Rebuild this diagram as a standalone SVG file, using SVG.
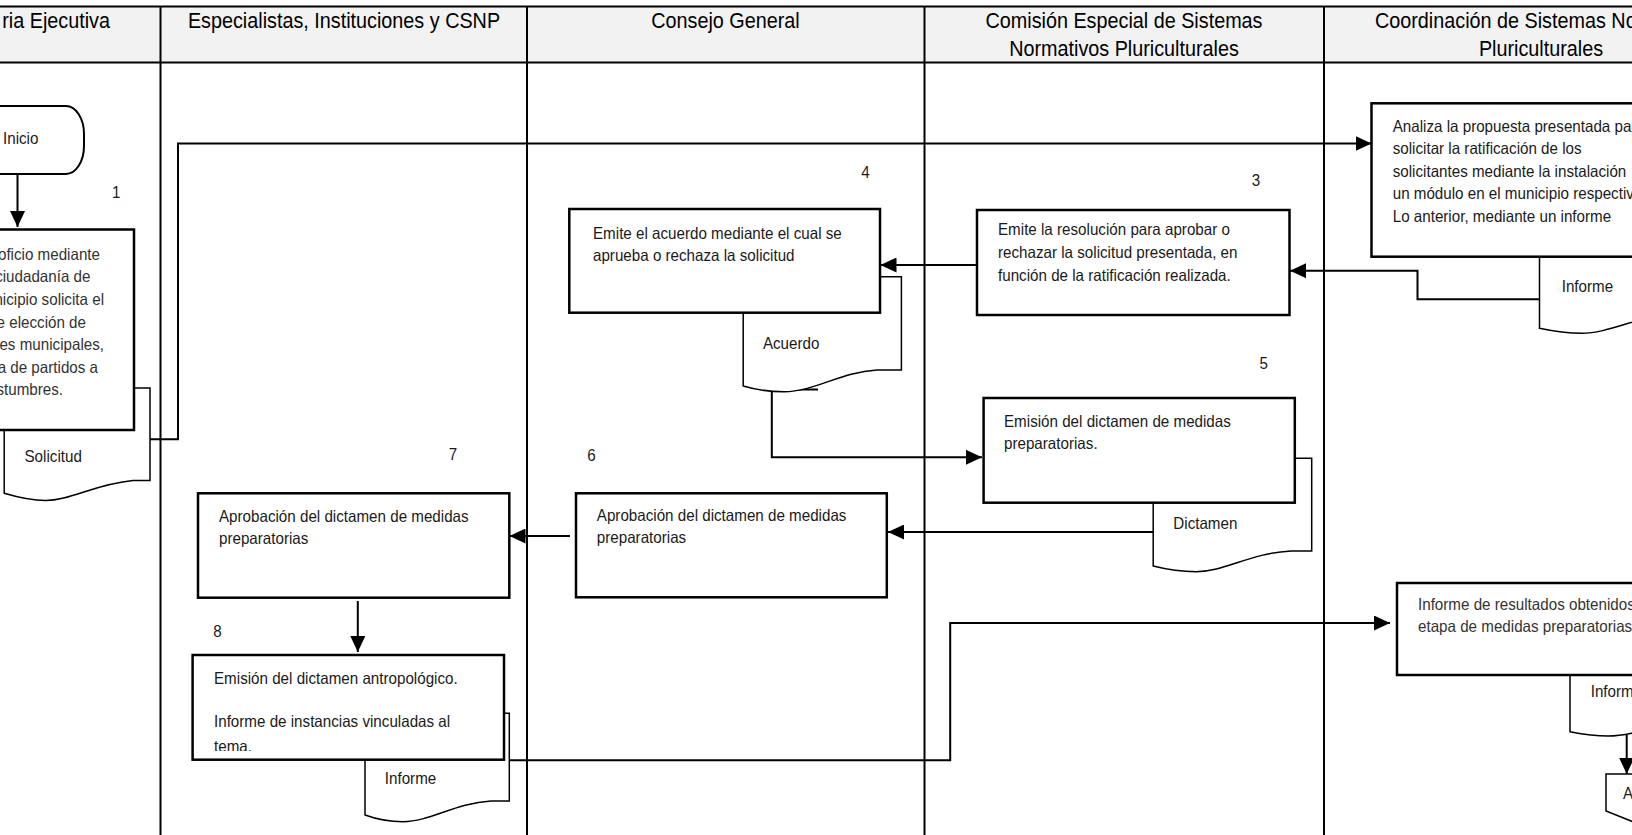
<svg xmlns="http://www.w3.org/2000/svg" width="1632" height="835" viewBox="0 0 1632 835">
<style>
.lane{stroke:#000;stroke-width:2;fill:none}
.box{fill:#fff;stroke:#000;stroke-width:2.5}
.doc{fill:#fff;stroke:#000;stroke-width:1.5}
.conn{fill:none;stroke:#000;stroke-width:2}
.h{font-family:"Liberation Sans",Arial,sans-serif;font-size:22px;fill:#000}
.t{font-family:"Liberation Sans",Arial,sans-serif;font-size:16.5px;fill:#1a1a1a}
.g{fill:#333}
.e{text-anchor:end}
.m{text-anchor:middle}
</style>
<defs>
<marker id="ah" markerUnits="userSpaceOnUse" viewBox="0 0 16 15" markerWidth="16" markerHeight="15" refX="16" refY="7.5" orient="auto">
<path d="M0 0 L16 7.5 L0 15 Z" fill="#000"/>
</marker>
<clipPath id="clip8"><rect x="190" y="655" width="316" height="96"/></clipPath>
</defs>
<rect width="1632" height="835" fill="#fff"/>
<g id="lanes">
<rect x="0" y="6.5" width="1632" height="56" fill="#f2f2f2"/>
<line class="lane" x1="0" y1="6.5" x2="1632" y2="6.5"/>
<line class="lane" x1="0" y1="62.5" x2="1632" y2="62.5"/>
<line class="lane" x1="160.5" y1="6.5" x2="160.5" y2="835"/>
<line class="lane" x1="527" y1="6.5" x2="527" y2="835"/>
<line class="lane" x1="924.5" y1="6.5" x2="924.5" y2="835"/>
<line class="lane" x1="1324" y1="6.5" x2="1324" y2="835"/>
<text class="h e" transform="translate(110 0) scale(.9 1)"><tspan x="0" y="28">ria Ejecutiva</tspan></text>
<text class="h m" transform="translate(344 0) scale(.9 1)"><tspan x="0" y="28">Especialistas, Instituciones y CSNP</tspan></text>
<text class="h m" transform="translate(725.5 0) scale(.9 1)"><tspan x="0" y="28">Consejo General</tspan></text>
<text class="h m" transform="translate(1124 0) scale(.9 1)"><tspan x="0" y="28">Comisión Especial de Sistemas</tspan><tspan x="0" y="56">Normativos Pluriculturales</tspan></text>
<text class="h" transform="translate(1375 0) scale(.9 1)"><tspan x="0" y="28">Coordinación de Sistemas No</tspan></text>
<text class="h m" transform="translate(1541 0) scale(.9 1)"><tspan x="0" y="56">Pluriculturales</tspan></text>
</g>
<g id="connectors">
<path class="conn" d="M17.5 174 V227" marker-end="url(#ah)"/>
<path class="conn" d="M150 439.3 H178 V143.5 H1371.5" marker-end="url(#ah)"/>
<path class="conn" d="M1539.5 299.3 H1417.5 V270.7 H1290" marker-end="url(#ah)"/>
<path class="conn" d="M977 265 H880.5" marker-end="url(#ah)"/>
<path class="conn" d="M771.8 389.5 V457.3 H982" marker-end="url(#ah)"/>
<path class="conn" d="M771.8 389.5 H818"/>
<path class="conn" d="M1153 532 H888" marker-end="url(#ah)"/>
<path class="conn" d="M570 536 H509.5" marker-end="url(#ah)"/>
<path class="conn" d="M357.8 601 V652" marker-end="url(#ah)"/>
<path class="conn" d="M509.3 760.3 H950.2 V623 H1390" marker-end="url(#ah)"/>
<path class="conn" d="M1626.7 735 V774" marker-end="url(#ah)"/>
</g>
<g id="inicio">
<path class="box" style="stroke-width:2" d="M-30 106 H66 A18 28 0 0 1 84 134 V146 A18 28 0 0 1 66 174 H-30 Z"/>
<text class="t" transform="translate(3 0) scale(.92 1)"><tspan x="0" y="144">Inicio</tspan></text>
</g>
<g id="paso1">
<text class="t" transform="translate(112 0) scale(.92 1)"><tspan x="0" y="198">1</tspan></text>
<path class="doc" d="M4.2 388 H150 V480.5 L133 480.5 C95 484 70 500.5 45.6 500.5 C32 500.5 20 498 4.2 493.3 Z"/>
<text class="t" transform="translate(24.5 0) scale(.92 1)"><tspan x="0" y="462">Solicitud</tspan></text>
<rect class="box" x="-10" y="229.5" width="144" height="200.5"/>
<text class="t g e" transform="translate(100 0) scale(.92 1)"><tspan x="0" y="259.8">oficio mediante</tspan></text>
<text class="t g e" transform="translate(90.5 0) scale(.92 1)"><tspan x="0" y="282.4">ciudadanía de</tspan></text>
<text class="t g e" transform="translate(104 0) scale(.92 1)"><tspan x="0" y="305">nicipio solicita el</tspan></text>
<text class="t g e" transform="translate(86 0) scale(.92 1)"><tspan x="0" y="327.6">e elección de</tspan></text>
<text class="t g e" transform="translate(104 0) scale(.92 1)"><tspan x="0" y="350.2">es municipales,</tspan></text>
<text class="t g e" transform="translate(98 0) scale(.92 1)"><tspan x="0" y="372.8">a de partidos a</tspan></text>
<text class="t g e" transform="translate(63 0) scale(.92 1)"><tspan x="0" y="395.4">stumbres.</tspan></text>
</g>
<g id="paso2">
<path class="doc" d="M1539.5 256.7 H1700 V313 L1680 313 C1640 315 1610 333.3 1582 333.3 C1566 333.3 1552 331 1539.5 328.3 Z"/>
<text class="t" transform="translate(1561.7 0) scale(.92 1)"><tspan x="0" y="292">Informe</tspan></text>
<rect class="box" x="1371.5" y="103.3" width="300" height="153.4"/>
<text class="t" transform="translate(1392.7 0) scale(.92 1)"><tspan x="0" y="132">Analiza la propuesta presentada pa</tspan><tspan x="0" y="154.5">solicitar la ratificación de los</tspan><tspan x="0" y="177">solicitantes mediante la instalación</tspan><tspan x="0" y="199.5">un módulo en el municipio respectiv</tspan><tspan x="0" y="222">Lo anterior, mediante un informe</tspan></text>
</g>
<g id="paso3">
<text class="t m" transform="translate(1256 0) scale(.92 1)"><tspan x="0" y="186">3</tspan></text>
<rect class="box" x="977" y="210" width="312.5" height="105"/>
<text class="t" transform="translate(998 0) scale(.92 1)"><tspan x="0" y="235.5">Emite la resolución para aprobar o</tspan><tspan x="0" y="258.5">rechazar la solicitud presentada, en</tspan><tspan x="0" y="281.5">función de la ratificación realizada.</tspan></text>
</g>
<g id="paso4">
<text class="t m" transform="translate(865.4 0) scale(.92 1)"><tspan x="0" y="177.7">4</tspan></text>
<path class="doc" d="M743.2 276.7 H901.4 V370 L877 370 C840 372 815 391.7 784 391.7 C768 391.7 755 389.5 743.2 386 Z"/>
<text class="t" transform="translate(762.9 0) scale(.92 1)"><tspan x="0" y="349">Acuerdo</tspan></text>
<rect class="box" x="569.3" y="209" width="310.7" height="103.7"/>
<text class="t" transform="translate(593 0) scale(.92 1)"><tspan x="0" y="239">Emite el acuerdo mediante el cual se</tspan><tspan x="0" y="261">aprueba o rechaza la solicitud</tspan></text>
</g>
<g id="paso5">
<text class="t m" transform="translate(1263.8 0) scale(.92 1)"><tspan x="0" y="369.3">5</tspan></text>
<path class="doc" d="M1153.2 458.3 H1311.7 V551 L1291 551 C1250 553 1225 571.7 1196 571.7 C1180 571.7 1165 569 1153.2 566 Z"/>
<text class="t" transform="translate(1173.3 0) scale(.92 1)"><tspan x="0" y="529.5">Dictamen</tspan></text>
<rect class="box" x="983.6" y="398" width="311.2" height="104.7"/>
<text class="t" transform="translate(1004 0) scale(.92 1)"><tspan x="0" y="427">Emisión del dictamen de medidas</tspan><tspan x="0" y="449.5">preparatorias.</tspan></text>
</g>
<g id="paso6">
<text class="t m" transform="translate(591.4 0) scale(.92 1)"><tspan x="0" y="461">6</tspan></text>
<rect class="box" x="576" y="493.3" width="310.8" height="104"/>
<text class="t" transform="translate(596.8 0) scale(.92 1)"><tspan x="0" y="521.5">Aprobación del dictamen de medidas</tspan><tspan x="0" y="543.2">preparatorias</tspan></text>
</g>
<g id="paso7">
<text class="t m" transform="translate(453 0) scale(.92 1)"><tspan x="0" y="460">7</tspan></text>
<rect class="box" x="198" y="493.3" width="311.3" height="104.4"/>
<text class="t" transform="translate(219 0) scale(.92 1)"><tspan x="0" y="522.2">Aprobación del dictamen de medidas</tspan><tspan x="0" y="543.8">preparatorias</tspan></text>
</g>
<g id="paso8">
<text class="t m" transform="translate(217.5 0) scale(.92 1)"><tspan x="0" y="637">8</tspan></text>
<path class="doc" d="M365 713.3 H509.3 V801 L491 801 C455 803 430 821.7 403 821.7 C388 821.7 376 819 365 815 Z"/>
<text class="t" transform="translate(384.8 0) scale(.92 1)"><tspan x="0" y="784.5">Informe</tspan></text>
<rect class="box" x="192.6" y="655" width="311.4" height="104.7"/>
<g clip-path="url(#clip8)">
<text class="t" transform="translate(214 0) scale(.92 1)"><tspan x="0" y="683.8">Emisión del dictamen antropológico.</tspan><tspan x="0" y="727.2">Informe de instancias vinculadas al</tspan><tspan x="0" y="752">tema.</tspan></text>
</g>
</g>
<g id="paso9">
<path class="doc" d="M1570 675 H1730 V716 L1710 716 C1670 718 1640 736 1608 736 C1594 736 1582 734 1570 731.7 Z"/>
<text class="t" transform="translate(1590.7 0) scale(.92 1)"><tspan x="0" y="697">Inform</tspan></text>
<rect class="box" x="1397" y="583" width="300" height="92"/>
<text class="t g" transform="translate(1418 0) scale(.92 1)"><tspan x="0" y="610.5">Informe de resultados obtenidos</tspan><tspan x="0" y="632.2">etapa de medidas preparatorias</tspan></text>
</g>
<g id="conector-a">
<path class="doc" d="M1606 774 H1666 V811 L1636 823 L1606 811 Z"/>
<text class="t" transform="translate(1623 0) scale(.92 1)"><tspan x="0" y="799">A</tspan></text>
</g>
</svg>
